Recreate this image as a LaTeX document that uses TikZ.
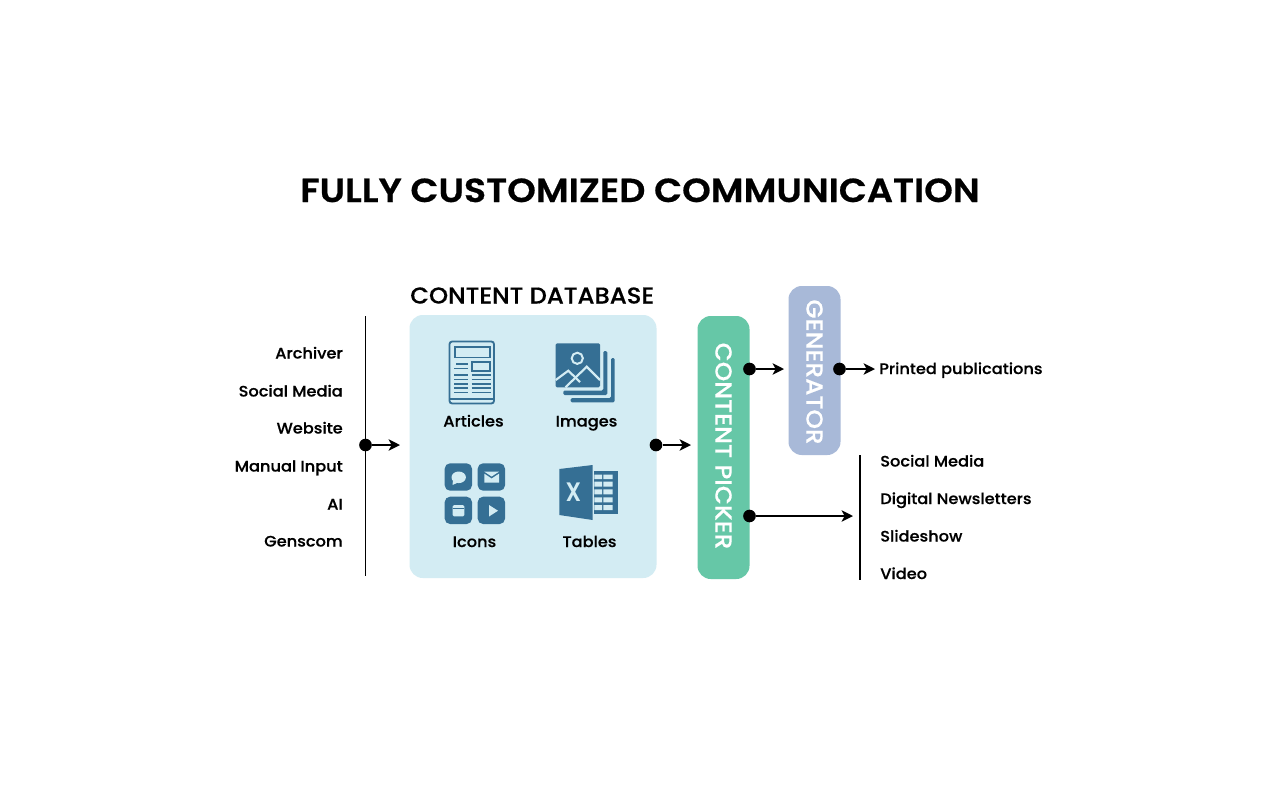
\documentclass[tikz,border=0pt]{standalone}
\usepackage{fontspec}
\setmainfont{Poppins}
\newfontfamily\labelfont[FakeStretch=1.065,FakeBold=0.4]{Poppins Medium}
\newfontfamily\bandfont[FakeStretch=1.07,FakeBold=0.3]{Poppins Medium}
\newfontfamily\dbfont[FakeStretch=1.06,FakeBold=0.5]{Poppins Medium}
\newfontfamily\titlefont[FakeStretch=1.095,FakeBold=0.6]{Poppins SemiBold}
\newfontfamily\markfont{Poppins SemiBold}
\usetikzlibrary{arrows.meta}
\definecolor{dbfill}{HTML}{D3ECF3}
\definecolor{iconblue}{HTML}{356F94}
\definecolor{pickergreen}{HTML}{66C7A7}
\definecolor{genblue}{HTML}{A8B9D8}
\tikzset{
  x=0.75pt, y=-0.75pt,
  itemlabel/.style={font=\labelfont\fontsize{11.4}{13}\selectfont, text=black, inner sep=0pt},
  bar/.style={draw=black, line width=1.2pt},
  dot/.style={circle, fill=black, inner sep=0pt, minimum size=9.5pt},
  flow/.style={draw=black, line width=1.5pt, -{Stealth[length=8.5pt,width=8.5pt,inset=2.2pt]}},
  icon/.style={fill=iconblue, draw=none},
  iconline/.style={draw=iconblue, line width=1.25pt},
  iconcut/.style={fill=dbfill, draw=none},
  band/.style={rounded corners=10pt, draw=none, inner sep=0pt},
  bandtext/.style={rotate=-90, text=white, font=\bandfont\fontsize{17.4}{20}\selectfont, inner sep=0pt},
}
\begin{document}
\begin{tikzpicture}
\useasboundingbox (0,0) rectangle (1280,800);
\fill[white] (0,0) rectangle (1280,800);

% Title and section heading
\node[anchor=base, inner sep=0pt, font=\titlefont\fontsize{25}{30}\selectfont] (title) at (640,202) {FULLY CUSTOMIZED COMMUNICATION};
\node[anchor=base west, inner sep=0pt, font=\dbfont\fontsize{17.2}{20}\selectfont] (dbtitle) at (410,303.5) {CONTENT DATABASE};

% Main blocks
\path[fill=dbfill, rounded corners=10pt] (409.5,315) rectangle (656.5,578);
\path[fill=pickergreen, band] (697.5,316) rectangle (749.5,579);
\path[fill=genblue, band] (788.5,286) rectangle (840.5,455);
\node[bandtext] (picker) at (723.5,446) {CONTENT PICKER};
\node[bandtext] (generator) at (814.5,372) {GENERATOR};

% Sources
\foreach \name/\txt/\yy in {a/Archiver/358.5, b/Social Media/396.5, c/Website/433.5, d/Manual Input/471.5, e/AI/509.5, f/Genscom/546.5}
  \node[itemlabel, anchor=base east] (src\name) at (343,\yy) {\txt};
\coordinate (srctop) at (365.5,316);
\coordinate (srcbot) at (365.5,576);
\draw[bar] (srctop) -- (srcbot);

% Outputs
\node[itemlabel, anchor=base west] (printed) at (879,374) {Printed publications};
\foreach \name/\txt/\yy in {a/Social Media/466.5, b/Digital Newsletters/504, c/Slideshow/541.5, d/Video/579}
  \node[itemlabel, anchor=base west] (out\name) at (880,\yy) {\txt};
\coordinate (outtop) at (860,455);
\coordinate (outbot) at (860,580);
\draw[bar] (outtop) -- (outbot);

% Connectors
\node[dot] (d1) at (365.5,445) {};
\coordinate (e1) at (400,445);
\draw[flow] (d1) -- (e1);
\node[dot] (d2) at (656,445) {};
\coordinate (e2) at (691,445);
\draw[flow] (d2) -- (e2);
\node[dot] (d3) at (749.5,369) {};
\coordinate (e3) at (784,369);
\draw[flow] (d3) -- (e3);
\node[dot] (d4) at (839.5,369) {};
\coordinate (e4) at (875,369);
\draw[flow] (d4) -- (e4);
\node[dot] (d5) at (749.5,516) {};
\coordinate (e5) at (853,516);
\draw[flow] (d5) -- (e5);

% Articles icon: a folded newspaper
\draw[iconline, line width=1.4pt, rounded corners=2pt] (449.5,341.5) rectangle (494,403.5);
\draw[iconline, line width=1.3pt] (449.5,399.3) -- (494,399.3);
\draw[iconline, line width=1.2pt] (454.7,346.7) rectangle (490,357.3);
\draw[iconline, line width=1.2pt] (471.7,361.7) rectangle (490,370.7);
\draw[iconline, line width=1.2pt] (456,363.7) -- (468.3,363.7) (454,368.3) -- (468.3,368.3);
\foreach \yy in {375,379.3,383.7,388,392.3}
  \draw[iconline, line width=1.2pt] (454,\yy) -- (468.3,\yy) (471.7,\yy) -- (490.7,\yy);

% Images icon: a stack of pictures
\fill[icon, rounded corners=1pt] (611,358) -- (614.7,358) -- (614.7,402.3) -- (570.7,402.3) -- (570.7,398) -- (611,398) -- cycle;
\fill[icon, rounded corners=1pt] (603.3,351) -- (607.3,351) -- (607.3,395) -- (563.3,395) -- (563.3,390.5) -- (603.3,390.5) -- cycle;
\fill[icon, rounded corners=1pt] (555.7,343.3) rectangle (600,387.3);
\draw[draw=dbfill, line width=1.5pt] (577.3,358.3) circle[radius=5.6];
\draw[draw=dbfill, line width=1.6pt] (555.7,380) -- (568.3,370.7) -- (580,382);
\draw[draw=dbfill, line width=1.6pt] (565.5,387.3) -- (586.7,366.7) -- (600,380);

% Icons icon: four rounded tiles
\fill[icon, rounded corners=4pt] (444.7,463.3) rectangle (472,490.7);
\fill[icon, rounded corners=4pt] (477.7,463.3) rectangle (505,490.7);
\fill[icon, rounded corners=4pt] (444.7,496.7) rectangle (472,524);
\fill[icon, rounded corners=4pt] (477.7,496.7) rectangle (505,524);
\fill[iconcut] (458.7,477.3) ellipse[x radius=7.2, y radius=5.8];
\fill[iconcut] (453,480) -- (452.5,485) -- (458,482.5) -- cycle;
\fill[iconcut] (484.3,471.7) -- (499,471.7) -- (491.6,476.5) -- cycle;
\fill[iconcut] (484.3,473.7) -- (491.6,478.5) -- (499,473.7) -- (499,482.7) -- (484.3,482.7) -- cycle;
\fill[iconcut, rounded corners=1pt] (452.7,505) -- (452.7,516.3) -- (464.3,516.3) -- (464.3,505) -- cycle;
\draw[draw=iconblue, line width=0.7pt] (452.7,508.4) -- (464.3,508.4);
\fill[iconcut] (489,505) -- (489,516.5) -- (498,510.7) -- cycle;

% Tables icon: a spreadsheet with its cover
\fill[icon] (594.3,471) rectangle (617.7,514.3);
\foreach \ya/\yb in {474.5/479, 481.7/486.7, 489.3/494.3, 497.3/502.3, 505/510}
  \fill[iconcut] (594.3,\ya) rectangle (602,\yb) (603.3,\ya) rectangle (612.7,\yb);
\fill[icon] (559.3,469) -- (592.7,465) -- (592.7,520) -- (559.3,515) -- cycle;
\node[inner sep=0pt, text=dbfill, xscale=0.85, transform shape, font=\markfont\fontsize{20}{24}\selectfont] (xmark) at (573.5,492.3) {X};

% Icon captions
\node[itemlabel, anchor=base] (capa) at (473.5,426.5) {Articles};
\node[itemlabel, anchor=base] (capb) at (586.5,426.5) {Images};
\node[itemlabel, anchor=base] (capc) at (474.5,547) {Icons};
\node[itemlabel, anchor=base] (capd) at (589.5,547) {Tables};
\end{tikzpicture}
\end{document}
